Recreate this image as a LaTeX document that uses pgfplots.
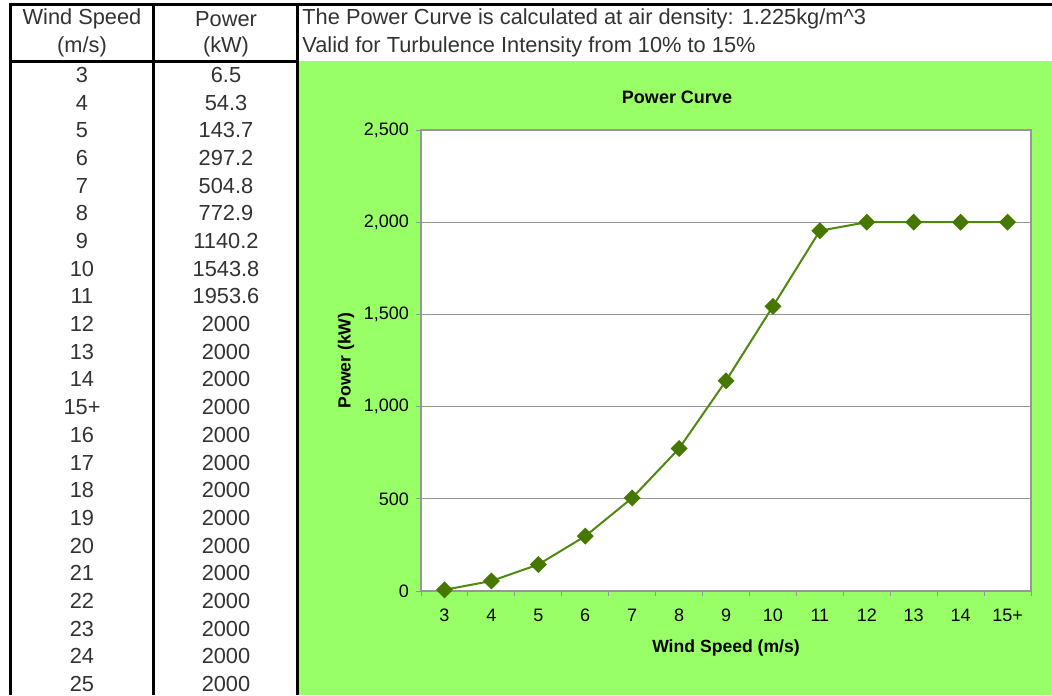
\documentclass[border=0pt]{standalone}
\usepackage{fontspec}
\setmainfont{Liberation Sans}
\usepackage{pgfplots}
\pgfplotsset{compat=1.18}
\definecolor{bggreen}{RGB}{153,255,102}
\definecolor{linegreen}{RGB}{79,138,16}
\definecolor{markgreen}{RGB}{70,120,0}
\definecolor{axgray}{RGB}{150,150,150}
\definecolor{tabtext}{RGB}{51,51,51}
\begin{document}
\begin{tikzpicture}
\path[use as bounding box] (0,0) rectangle (526pt,-347.5pt);
\begin{scope}[x=0.5pt,y=-0.5pt]
\fill[white] (0,0) rectangle (1052,695);
\fill[bggreen] (297,61) rectangle (1052,695);
\draw[line width=1.5pt] (10,695) -- (10,5) -- (1052,5);
\draw[line width=1.5pt] (153,5) -- (153,695);
\draw[line width=1.5pt] (297,5) -- (297,695);
\draw[line width=1.5pt] (10,62) -- (297,62);
\begin{scope}[every node/.style={text=tabtext, font=\fontsize{10.9pt}{12pt}\selectfont, inner sep=0pt}]
\node at (82,19) {Wind Speed};
\node at (82,47) {(m/s)};
\node at (226,19) {Power};
\node at (226,47) {(kW)};
\node[anchor=west] at (302,19) {The Power Curve is calculated at air density: 1.225kg/m\textasciicircum 3};
\node[anchor=west] at (302,47) {Valid for Turbulence Intensity from 10\% to 15\%};
\foreach \ws/\pw [count=\i from 0] in {3/6.5,4/54.3,5/143.7,6/297.2,7/504.8,8/772.9,9/1140.2,10/1543.8,11/1953.6,12/2000,13/2000,14/2000,15+/2000,16/2000,17/2000,18/2000,19/2000,20/2000,21/2000,22/2000,23/2000,24/2000,25/2000}{
  \node at (82,{75+27.68*\i}) {\ws};
  \node at (226,{75+27.68*\i}) {\pw};
}
\end{scope}
\end{scope}
\begin{axis}[
  at={(210.5pt,-295.5pt)}, anchor=south west,
  scale only axis, width=305pt, height=230.5pt,
  xmin=-0.5, xmax=12.5, ymin=0, ymax=2500,
  xtick={0,...,12},
  xticklabels={3,4,5,6,7,8,9,10,11,12,13,14,15+},
  minor xtick={-0.5,0.5,...,12.5},
  ytick={0,500,...,2500},
  tick align=outside, tick pos=left,
  major tick length=2.5pt, minor tick length=2.5pt,
  major x tick style={draw=none},
  tick style={axgray, line width=0.5pt},
  ymajorgrids, grid style={axgray, line width=0.5pt},
  axis line style={axgray, line width=0.75pt},
  axis background/.style={fill=white},
  /pgf/number format/1000 sep={,},
  /pgf/number format/assume math mode=true,
  tick label style={font=\fontsize{9pt}{10pt}\selectfont},
  xticklabel style={yshift=-3pt},
  title={Power Curve},
  every axis title/.style={at={(axis description cs:0.5,1)}, anchor=center, xshift=-24.5pt, yshift=16.5pt, font=\bfseries\fontsize{9pt}{10pt}\selectfont},
  xlabel={Wind Speed (m/s)},
  ylabel={Power (kW)},
  every axis x label/.style={at={(axis description cs:0.5,0)}, anchor=center, yshift=-28.5pt, font=\bfseries\fontsize{8.8pt}{10pt}\selectfont},
  every axis y label/.style={at={(axis description cs:-0.123,0.5)}, anchor=center, rotate=90, font=\bfseries\fontsize{8.8pt}{10pt}\selectfont},
  clip=false,
]
\addplot[linegreen, line width=1pt, mark=square*, mark size=2.5pt, mark options={rotate=45, fill=markgreen, draw=markgreen}] coordinates {
  (0,6.5) (1,54.3) (2,143.7) (3,297.2) (4,504.8) (5,772.9) (6,1140.2) (7,1543.8) (8,1953.6) (9,2000) (10,2000) (11,2000) (12,2000)
};
\end{axis}
\end{tikzpicture}
\end{document}
